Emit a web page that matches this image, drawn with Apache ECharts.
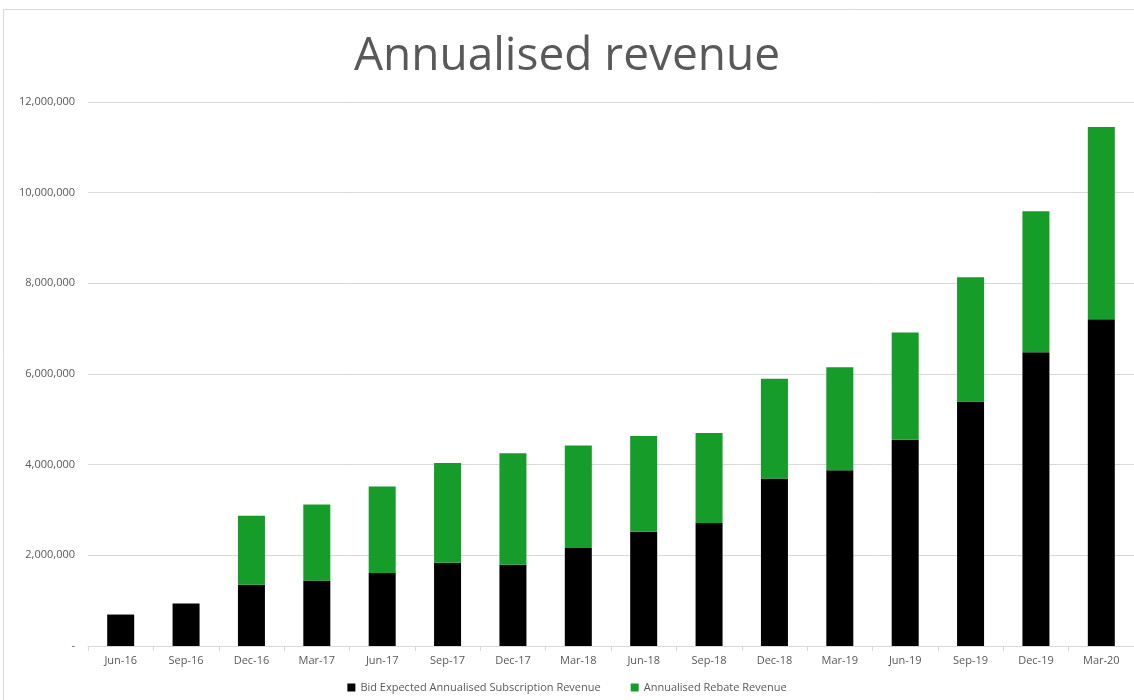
<!DOCTYPE html>
<html>
<head>
<meta charset="utf-8">
<script src="https://cdn.jsdelivr.net/npm/echarts@6/dist/echarts.min.js"></script>
<style>
  html, body { margin: 0; padding: 0; background: #fff; }
  #chart { width: 1134px; height: 700px; }
</style>
</head>
<body>
<div id="chart"></div>
<script>
// quarters on the x axis
const quarters = ['Jun-16', 'Sep-16', 'Dec-16', 'Mar-17', 'Jun-17', 'Sep-17', 'Dec-17', 'Mar-18',
                  'Jun-18', 'Sep-18', 'Dec-18', 'Mar-19', 'Jun-19', 'Sep-19', 'Dec-19', 'Mar-20'];

// bottom (black) part of each stack
const subscriptionRevenue = [694000, 937000, 1351000, 1446000, 1609000, 1838000, 1793000, 2162000,
                             2520000, 2714000, 3695000, 3877000, 4549000, 5396000, 6479000, 7207000];

// top (green) part, zero for the first two quarters
const rebateRevenue = [0, 0, 1520000, 1676000, 1911000, 2199000, 2458000, 2259000,
                       2112000, 1986000, 2199000, 2270000, 2366000, 2737000, 3110000, 4241000];

const seriesNames = ['Bid Expected Annualised Subscription Revenue', 'Annualised Rebate Revenue'];

const chart = echarts.init(document.getElementById('chart'));

const labelColor = '#595959';

const option = {
    animation: false,
    title: {
        text: 'Annualised revenue',
        left: 'center',
        top: 29,
        textStyle: {
            fontFamily: 'Open Sans',
            fontWeight: 'normal',
            fontSize: 46,
            color: labelColor
        }
    },
    graphic: [{
        type: 'rect',
        shape: { x: 3.5, y: 9.5, width: 1140, height: 700 },
        style: { fill: 'none', stroke: '#d9d9d9', lineWidth: 1 },
        silent: true
    }],
    legend: {
        bottom: 2,
        left: 'center',
        itemWidth: 8,
        itemHeight: 8,
        itemGap: 30,
        icon: 'rect',
        textStyle: { fontFamily: 'Open Sans', fontSize: 11, color: labelColor },
        data: seriesNames
    },
    grid: {
        left: 88,
        right: 0,
        top: 102,
        bottom: 54
    },
    xAxis: {
        type: 'category',
        data: quarters,
        axisLine: { lineStyle: { color: '#d9d9d9' } },
        axisTick: { show: true, length: 5, lineStyle: { color: '#d9d9d9' } },
        axisLabel: { fontFamily: 'Open Sans', fontSize: 11, color: labelColor, margin: 9 }
    },
    yAxis: {
        type: 'value',
        min: 0,
        max: 12000000,
        interval: 2000000,
        axisLine: { show: false },
        axisTick: { show: false },
        splitLine: { lineStyle: { color: '#d9d9d9' } },
        axisLabel: {
            fontFamily: 'Open Sans',
            fontSize: 11,
            color: labelColor,
            margin: 13,
            formatter: function (v) {
                return v === 0 ? '-' : v.toLocaleString('en-US');
            }
        }
    },
    series: [
        {
            name: seriesNames[0],
            type: 'bar',
            stack: 'rev',
            barWidth: 27,
            itemStyle: { color: '#000000' },
            data: subscriptionRevenue
        },
        {
            name: seriesNames[1],
            type: 'bar',
            stack: 'rev',
            barWidth: 27,
            itemStyle: { color: '#169c28' },
            data: rebateRevenue
        }
    ]
};

chart.setOption(option);
</script>
</body>
</html>
